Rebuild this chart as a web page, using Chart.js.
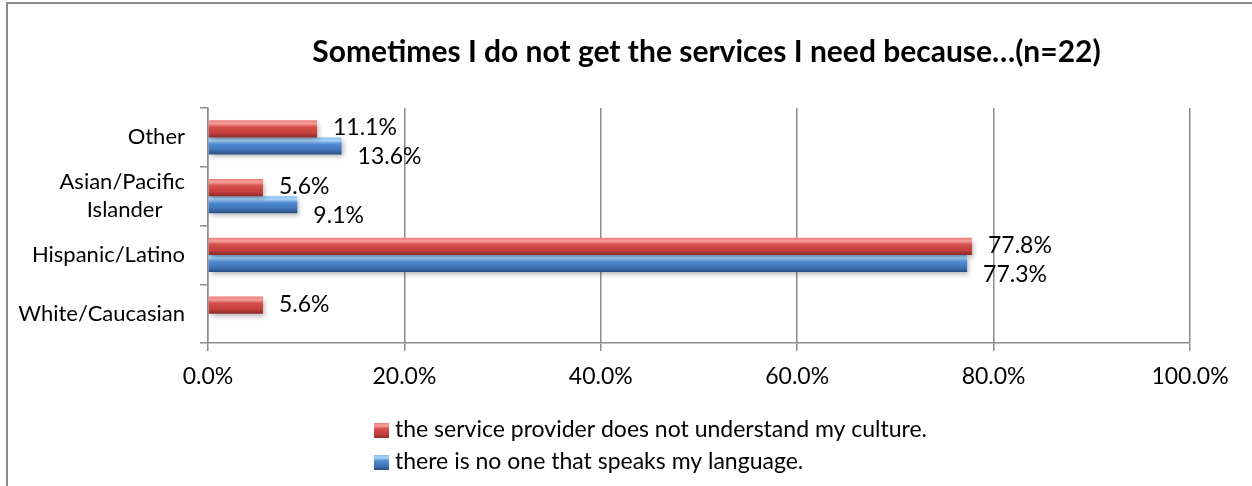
<!DOCTYPE html>
<html>
<head>
<meta charset="utf-8">
<script src="https://cdn.jsdelivr.net/npm/chart.js@4"></script>
<style>
    html, body { margin: 0; padding: 0; background: #fff; overflow: hidden; }
    #frame {
        position: absolute; left: 6px; top: 2px;
        width: 1397px; height: 500px;
        border-left: 2px solid #8c8c8c; border-top: 2px solid #8c8c8c;
    }
    #chart { display: block; }
</style>
</head>
<body>
<div id="frame"><canvas id="chart" width="1397" height="482"></canvas></div>
<script>
const titleText = "Sometimes I do not get the services I need because\u2026(n=22)";
const categories = ["Other", ["Asian/Pacific", "Islander"], "Hispanic/Latino", "White/Caucasian"];
const cultureLabel = "the service provider does not understand my culture.";
const languageLabel = "there is no one that speaks my language.";
const cultureValues = [11.1, 5.6, 77.8, 5.6];
const languageValues = [13.6, 9.1, 77.3, null];
const xTicks = [0, 20, 40, 60, 80, 100];

const FONT = "Lato, 'Open Sans', sans-serif";
const CAT_PCT = 0.58;

const palettes = [
    { light: "#f6a09d", hi: "#ee7b78", mid: "#d44d4a", low: "#c23f3d", dark: "#8f2a29" },
    { light: "#a9d2f7", hi: "#84bbef", mid: "#4f8ad2", low: "#3f72b6", dark: "#2a4d7f" }
];

function gradientFor(chart, top, h, pal) {
    const g = chart.ctx.createLinearGradient(0, top, 0, top + h);
    g.addColorStop(0, pal.hi);
    g.addColorStop(0.18, pal.light);
    g.addColorStop(0.4, pal.mid);
    g.addColorStop(0.75, pal.low);
    g.addColorStop(1, pal.dark);
    return g;
}

function barFill(ctx) {
    const pal = palettes[ctx.datasetIndex];
    const chart = ctx.chart;
    const y = chart.scales.y;
    if (ctx.type !== "data" || !y || !chart.chartArea) return pal.mid;
    const center = y.getPixelForValue(ctx.dataIndex);
    const h = (y.height / categories.length) * CAT_PCT / 2;
    if (!isFinite(center) || !isFinite(h) || h <= 0) return pal.mid;
    const top = ctx.datasetIndex === 0 ? center - h : center;
    return gradientFor(chart, top, h, pal);
}

// centre the lines of a multi-line category label like Excel does
const measureCtx = document.createElement("canvas").getContext("2d");
function centerLines(label) {
    if (!Array.isArray(label)) return label;
    measureCtx.font = "22px " + FONT;
    const widths = label.map(l => measureCtx.measureText(l).width);
    const maxW = Math.max(...widths);
    const sp = measureCtx.measureText(" ").width;
    return label.map((l, i) => l + " ".repeat(Math.round((maxW - widths[i]) / 2 / sp)));
}

const shadowPlugin = {
    id: "barShadow",
    beforeDatasetsDraw(chart) {
        const c = chart.ctx;
        c.save();
        c.shadowColor = "rgba(0,0,0,0.28)";
        c.shadowBlur = 5;
        c.shadowOffsetX = 2;
        c.shadowOffsetY = 3;
    },
    afterDatasetsDraw(chart) {
        chart.ctx.restore();
    }
};

const valueLabels = {
    id: "valueLabels",
    afterDatasetsDraw(chart) {
        const c = chart.ctx;
        const yOffsets = [-1, 11];
        c.save();
        c.font = "23px " + FONT;
        c.fillStyle = "#000";
        c.textAlign = "left";
        c.textBaseline = "middle";
        chart.data.datasets.forEach((ds, di) => {
            chart.getDatasetMeta(di).data.forEach((bar, i) => {
                const v = ds.data[i];
                if (v === null || v === undefined) return;
                c.fillText(v.toFixed(1) + "%", bar.x + 16, bar.y + yOffsets[di]);
            });
        });
        c.restore();
    }
};

const sideLegend = {
    id: "sideLegend",
    afterDraw(chart) {
        const c = chart.ctx;
        const area = chart.chartArea;
        const x = area.left + 166;
        const rows = [area.bottom + 87, area.bottom + 119];
        c.save();
        c.font = "23px " + FONT;
        c.textBaseline = "middle";
        chart.data.datasets.forEach((ds, i) => {
            const y = rows[i];
            c.fillStyle = gradientFor(chart, y - 7, 15, palettes[i]);
            c.fillRect(x, y - 7, 15, 15);
            c.fillStyle = "#000";
            c.fillText(ds.label, x + 21, y);
        });
        c.restore();
    }
};

const ctx = document.getElementById("chart").getContext("2d");
new Chart(ctx, {
    type: "bar",
    data: {
        labels: categories,
        datasets: [
            { label: cultureLabel, data: cultureValues, backgroundColor: barFill, borderWidth: 0 },
            { label: languageLabel, data: languageValues, backgroundColor: barFill, borderWidth: 0 }
        ]
    },
    options: {
        indexAxis: "y",
        responsive: false,
        animation: false,
        categoryPercentage: CAT_PCT,
        barPercentage: 1.0,
        layout: { padding: { left: 0, right: 0, top: 0, bottom: 83 } },
        plugins: {
            legend: { display: false },
            tooltip: { enabled: false },
            title: {
                display: true,
                text: titleText,
                color: "#000",
                font: { family: FONT, size: 30, weight: "bold", lineHeight: 1.2 },
                padding: { top: 30, bottom: 38 }
            }
        },
        scales: {
            x: {
                min: 0,
                max: 100,
                afterFit: s => { s.height = 60; },
                afterBuildTicks: s => { s.ticks = xTicks.map(v => ({ value: v })); },
                grid: { color: "#8c8c8c", lineWidth: 1.5, tickLength: 8 },
                border: { color: "#8c8c8c", width: 1.5 },
                ticks: {
                    color: "#000",
                    padding: 12,
                    font: { family: FONT, size: 23 },
                    callback: v => v.toFixed(1) + "%"
                }
            },
            y: {
                afterFit: s => { s.width = 200; },
                grid: { drawOnChartArea: false, color: "#8c8c8c", lineWidth: 1.5, tickLength: 8 },
                border: { color: "#8c8c8c", width: 1.5 },
                ticks: {
                    color: "#000",
                    padding: 15,
                    font: { family: FONT, size: 22, lineHeight: 1.25 },
                    callback: function (v, i) { return centerLines(categories[i]); }
                }
            },
            // empty space on the right, where the original chart runs on past the crop
            rightSpace: {
                type: "linear",
                position: "right",
                afterFit: s => { s.width = 215; },
                grid: { display: false },
                border: { display: false },
                ticks: { display: false }
            }
        }
    },
    plugins: [shadowPlugin, valueLabels, sideLegend]
});
</script>
</body>
</html>
